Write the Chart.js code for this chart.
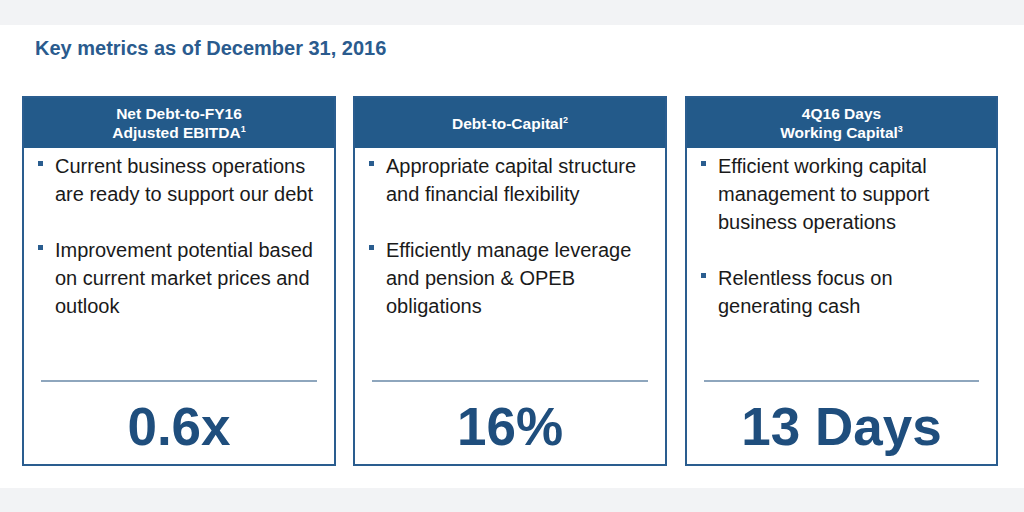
<!DOCTYPE html>
<html><head><meta charset="utf-8">
<script src="https://cdn.jsdelivr.net/npm/chart.js@4/dist/chart.umd.min.js"></script>
<style>
body{margin:0;width:1024px;height:512px;background:#fff;font-family:"Liberation Sans",Arial,sans-serif;position:relative;overflow:hidden}
#bgTop{position:absolute;left:0;top:0;width:1024px;height:25px;background:#f2f3f5}
#bgBot{position:absolute;left:0;top:488px;width:1024px;height:24px;background:#f2f3f5}
#title{position:absolute;left:35px;top:37px;font-size:20px;font-weight:bold;color:#2a5b8e}
.panel{position:absolute;top:96px;height:370px;border:2px solid #2a5d8f;box-sizing:border-box;background:#fff}
.head{height:50px;background:#235a8a;color:#fff;font-weight:bold;font-size:15.5px;text-align:center;display:flex;align-items:center;justify-content:center;line-height:19px}
.head sup{font-size:9px;line-height:0;vertical-align:super}
ul{margin:4px 0 0 0;padding:0 14px 0 31px;font-size:20px;color:#1a1a1a;line-height:28px}
li{list-style:none;position:relative;margin-bottom:28px}
li:before{content:"";position:absolute;left:-17px;top:9px;width:5px;height:5px;background:#2a5d8f}
.rule{position:absolute;left:17px;right:17px;top:282px;height:2px;background:#8ea6bd}
.val{position:absolute;left:0;right:0;top:298px;text-align:center;font-size:53px;font-weight:bold;color:#1f4e7d}
canvas{position:absolute;left:0;top:0}
</style></head><body>
<div id="bgTop"></div><div id="bgBot"></div>
<div id="title">Key metrics as of December 31, 2016</div>
<div id="wrap"></div>
<canvas id="c" width="1" height="1"></canvas>
<script>
const headers=["Net Debt-to-FY16<br>Adjusted EBITDA<sup>1</sup>","Debt-to-Capital<sup>2</sup>","4Q16 Days<br>Working Capital<sup>3</sup>"];
const bullets1=["Current business operations are ready to support our debt","Improvement potential based on current market prices and outlook"];
const bullets2=["Appropriate capital structure and financial flexibility","Efficiently manage leverage and pension &amp; OPEB obligations"];
const bullets3=["Efficient working capital management to support business operations","Relentless focus on generating cash"];
const values=["0.6x","16%","13 Days"];
const lefts=[22,353,685];
const bl=[bullets1,bullets2,bullets3];
const w=document.getElementById('wrap');
for(let i=0;i<3;i++){
 const p=document.createElement('div');p.className='panel';p.style.left=lefts[i]+'px';p.style.width=(i==2?313:314)+'px';
 p.innerHTML='<div class="head"><span>'+headers[i]+'</span></div><ul>'+bl[i].map(b=>'<li>'+b+'</li>').join('')+'</ul><div class="rule"></div><div class="val">'+values[i]+'</div>';
 w.appendChild(p);
}
new Chart(document.getElementById('c'),{type:'bar',data:{labels:[],datasets:[]},options:{responsive:false,animation:false,plugins:{legend:{display:false}},scales:{x:{display:false},y:{display:false}}}});
</script>
</body></html>
